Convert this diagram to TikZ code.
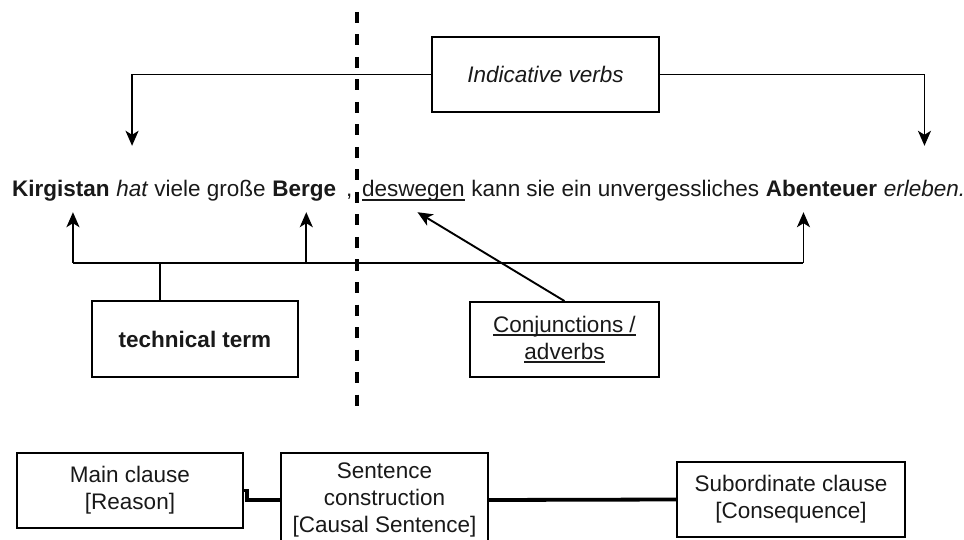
\documentclass[tikz,border=0pt]{standalone}
\usepackage{fontspec}
\setmainfont{Liberation Sans}
\usetikzlibrary{arrows.meta}
\newcommand\fsz{\fontsize{22.5pt}{27pt}\selectfont}
\newcommand\ulx[1]{\setbox0\hbox{#1}\rlap{\vrule width\wd0 height -2pt depth 3.6pt}\box0}
\newcommand\wsp{6.3pt}
\begin{document}
\begin{tikzpicture}[x=1pt,y=-1pt,
  every node/.style={font=\fsz, text=black!90},
  word/.style={inner sep=0pt, anchor=base west, text height=51pt, text depth=15pt},
  box/.style={draw=black, line width=1.9pt, align=center, inner sep=0pt},
  conn/.style={line width=1.9pt},
  arr/.style={line width=1.9pt, -{Stealth[length=15pt,width=13pt,inset=4pt]}},
  thickconn/.style={line width=3.8pt},
  sep/.style={line width=3.6pt, dash pattern=on 11pt off 11.5pt}]
\useasboundingbox (0,0) rectangle (964,540);
\clip (0,0) rectangle (964,540);

% separator
\coordinate (dtop) at (357,12);
\coordinate (dbot) at (357,415);
\draw[sep] (dtop) -- (dbot);

% top box
\node[box, minimum width=227pt, minimum height=75pt] (iv) at (545.5,74.5) {\itshape Indicative verbs};

% sentence words
\node[word] (kirg) at (12,197) {\bfseries Kirgistan};
\node[word] (hat) at ([xshift=\wsp]kirg.base east) {\itshape hat};
\node[word] (mid1) at ([xshift=\wsp]hat.base east) {viele große};
\node[word] (berge) at ([xshift=\wsp]mid1.base east) {\bfseries Berge};
\node[word] (comma) at (346,197) {,};
\node[word] (desw) at (362,197) {\ulx{deswegen}};
\node[word] (mid2) at ([xshift=\wsp]desw.base east) {kann sie ein unvergessliches};
\node[word] (abent) at ([xshift=\wsp]mid2.base east) {\bfseries Abenteuer};
\node[word] (erl) at ([xshift=\wsp]abent.base east) {\itshape erleben.};

% lower boxes
\node[box, minimum width=206pt, minimum height=76pt] (tt) at (195,339) {\bfseries technical term};
\node[box, minimum width=189pt, minimum height=75pt] (conj) at (564.5,339.5) {\ulx{Conjunctions /}\\ \ulx{adverbs}};

% indicative verbs connectors
\draw[arr] (iv.west) -| (hat.north);
\draw[arr] (iv.east) -| (erl.north);

% technical term bus
\coordinate (bus) at (0,263);
\coordinate (ka) at ([xshift=12pt]kirg.south);
\coordinate (ba) at ([xshift=2pt]berge.south);
\coordinate (aa) at ([xshift=-18pt]abent.south);
\coordinate (tj) at ([xshift=-35pt]tt.north);
\draw[conn] (ka |- bus) -- (aa |- bus);
\draw[conn] (tj) -- (tj |- bus);
\draw[arr] (ka |- bus) -- (ka);
\draw[arr] (ba |- bus) -- (ba);
\draw[arr] (aa |- bus) -- (aa);

% conjunction arrow
\draw[arr] (conj.north) -- ([xshift=4pt]desw.south);

% bottom row
\node[box, minimum width=226pt, minimum height=75pt] (main) at (130,490.5) {Main clause\\ {[Reason]}};
\node[box, minimum width=207pt, minimum height=94pt] (sent) at (384.5,500) {Sentence\\ construction\\ {[Causal Sentence]}};
\node[box, minimum width=228pt, minimum height=75pt] (sub) at (791,499.5) {Subordinate clause\\ {[Consequence]}};
\draw[thickconn] (main.east) -- ++(3,0) |- (sent.west);
\draw[thickconn] (sent.east) -- (sub.west);
\end{tikzpicture}
\end{document}
